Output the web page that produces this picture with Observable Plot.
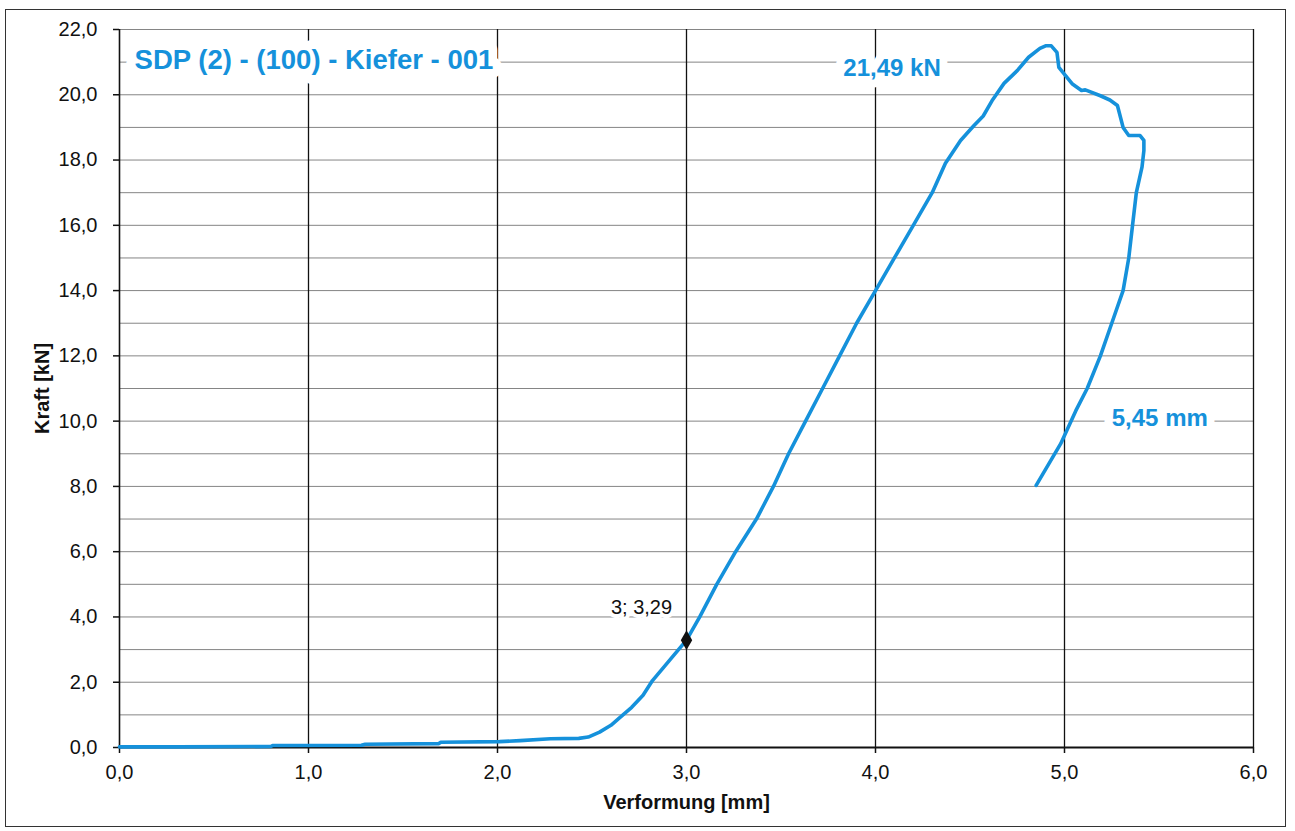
<!DOCTYPE html>
<html>
<head>
<meta charset="utf-8">
<script src="https://cdn.jsdelivr.net/npm/d3@7"></script>
<script src="https://cdn.jsdelivr.net/npm/@observablehq/plot@0.6"></script>
<style>
  html, body { margin: 0; padding: 0; background: #fff; }
  #wrap { position: relative; width: 1295px; height: 831px; overflow: hidden; }
  #frame { position: absolute; left: 5px; top: 9px; width: 1281px; height: 818px; border: 1.5px solid #333; box-sizing: border-box; pointer-events: none; }
  #chart { position: absolute; left: 0; top: 0; }
</style>
</head>
<body>
<div id="wrap"><div id="chart"></div><div id="frame"></div></div>
<script>
// Deformation (mm) and force (kN)
const deformation = [0, 0.3, 0.8, 0.81, 1.28, 1.3, 1.69, 1.7, 2.01, 2.12, 2.28, 2.43, 2.48, 2.54, 2.6, 2.65, 2.71, 2.77, 2.82, 2.9, 3.0,
  3.07, 3.16, 3.26, 3.37, 3.46, 3.54, 3.63, 3.72, 3.81, 3.90, 4.00, 4.10, 4.20, 4.30, 4.37, 4.45, 4.52, 4.57, 4.62, 4.68, 4.75, 4.81, 4.87,
  4.90, 4.93, 4.96, 4.97, 5.04, 5.09, 5.11, 5.19, 5.24, 5.28, 5.31, 5.34, 5.40, 5.42, 5.42, 5.41, 5.38, 5.36, 5.34, 5.31, 5.25, 5.19,
  5.12, 5.06, 4.98, 4.85];
const force = [0.02, 0.02, 0.03, 0.06, 0.07, 0.10, 0.12, 0.16, 0.18, 0.21, 0.27, 0.28, 0.32, 0.47, 0.68, 0.93, 1.23, 1.6, 2.05, 2.6, 3.29,
  4, 5, 6, 7, 8, 9, 10, 11, 12, 13, 14, 15, 16, 17, 17.9, 18.6, 19.05, 19.35, 19.85, 20.35, 20.74, 21.15, 21.42,
  21.5, 21.5, 21.3, 20.84, 20.34, 20.13, 20.15, 19.97, 19.84, 19.67, 19.0, 18.75, 18.75, 18.6, 18.29, 17.78, 17, 16, 15, 14, 13, 12,
  11, 10.32, 9.31, 8.03];

const markerX = [3];
const markerY = [3.29];

const xTicks = [0, 1, 2, 3, 4, 5, 6];
const yTicks = [0, 2, 4, 6, 8, 10, 12, 14, 16, 18, 20, 22];
const yGrid = d3.range(0, 23);

const titleText = ["SDP (2) - (100) - Kiefer - 001"];
const titleX = [0.08];
const titleY = [21.05];

const valueLabels = ["21,49 kN", "5,45 mm"];
const valueLabelX = [3.83, 5.25];
const valueLabelY = [20.8, 10.1];

const pointLabel = ["3; 3,29"];
const pointLabelX = [2.6];
const pointLabelY = [4.29];

const xTitle = "Verformung [mm]";
const yTitle = "Kraft [kN]";

const curve = deformation.map((d, i) => ({x: d, y: force[i]}));
const marker = markerX.map((d, i) => ({x: d, y: markerY[i]}));
const fmt = d => d.toFixed(1).replace(".", ",");
const blue = "#1591db";
const idx = a => d3.range(a.length);

const chart = Plot.plot({
  width: 1295,
  height: 831,
  marginLeft: 119,
  marginRight: 42,
  marginTop: 29,
  marginBottom: 84,
  x: {domain: [0, 6]},
  y: {domain: [0, 22]},
  style: {fontFamily: "'Liberation Sans', Arial, sans-serif", fontSize: "20px", color: "#111", background: "transparent"},
  marks: [
    Plot.gridY(yGrid, {stroke: "#858585", strokeOpacity: 1, strokeWidth: 1}),
    Plot.gridX(xTicks.slice(1), {stroke: "#111", strokeOpacity: 1, strokeWidth: 1.3}),
    Plot.axisX(xTicks, {tickSize: 6, tickPadding: 11, tickFormat: fmt, label: null, fontSize: 20, stroke: "#111", strokeWidth: 1.5}),
    Plot.axisY(yTicks, {tickSize: 6, tickPadding: 16, tickFormat: fmt, label: null, fontSize: 20, stroke: "#111", strokeWidth: 1.5}),
    Plot.ruleX([0], {stroke: "#111", strokeWidth: 1.6}),
    Plot.ruleY([0], {stroke: "#111", strokeWidth: 2.2}),
    Plot.text(idx(titleText), {x: i => titleX[i], y: i => titleY[i], text: i => titleText[i], textAnchor: "start",
      fill: blue, fontWeight: "bold", fontSize: 27.5, stroke: "white", strokeWidth: 18, paintOrder: "stroke", strokeLinejoin: "round"}),
    Plot.text(idx(valueLabels), {x: i => valueLabelX[i], y: i => valueLabelY[i], text: i => valueLabels[i], textAnchor: "start",
      fill: blue, fontWeight: "bold", fontSize: 24, stroke: "white", strokeWidth: 16, paintOrder: "stroke", strokeLinejoin: "round"}),
    Plot.text(idx(pointLabel), {x: i => pointLabelX[i], y: i => pointLabelY[i], text: i => pointLabel[i], textAnchor: "start",
      fill: "#111", fontSize: 20, stroke: "white", strokeWidth: 8, paintOrder: "stroke", strokeLinejoin: "round"}),
    Plot.line(curve, {x: "x", y: "y", stroke: blue, strokeWidth: 3.6, strokeLinejoin: "round", strokeLinecap: "round"}),
    Plot.dot(marker, {x: "x", y: "y", symbol: "diamond", fill: "#111", r: 6}),
    Plot.text([xTitle], {frameAnchor: "bottom", dy: 55, lineAnchor: "middle", textAnchor: "middle", text: d => d, fontWeight: "bold", fontSize: 20, fill: "#111"}),
    Plot.text([yTitle], {frameAnchor: "left", dx: -77, rotate: -90, lineAnchor: "middle", textAnchor: "middle", text: d => d, fontWeight: "bold", fontSize: 20, fill: "#111"})
  ]
});
document.getElementById("chart").appendChild(chart);
</script>
</body>
</html>
